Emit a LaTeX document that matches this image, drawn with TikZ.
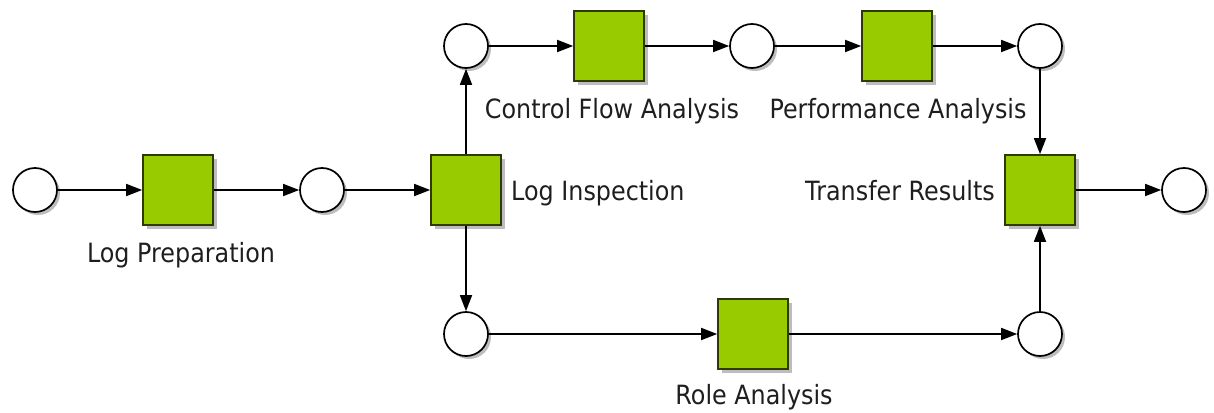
\documentclass[tikz,border=0pt]{standalone}
\usepackage{fontspec}
\setmainfont{DejaVu Sans}[FakeStretch=0.9]
\usetikzlibrary{arrows.meta,shadows}
\definecolor{boxgreen}{HTML}{99CC00}
\definecolor{boxedge}{HTML}{2E3A00}
\definecolor{shade}{HTML}{BDBDBD}
\definecolor{txt}{HTML}{1E1E1E}
\begin{document}
\begin{tikzpicture}[x=1pt,y=-1pt,
  trans/.style={draw=boxedge,line width=1.7pt,fill=boxgreen,minimum size=70pt,inner sep=0pt,
    drop shadow={shadow xshift=4pt,shadow yshift=-4pt,fill=shade,opacity=1}},
  place/.style={circle,draw=black,line width=1.7pt,fill=white,minimum size=44pt,inner sep=0pt,
    drop shadow={shadow xshift=3pt,shadow yshift=-3pt,fill=shade,opacity=1}},
  arc/.style={line width=1.7pt,-{Triangle[length=16pt,width=12pt]}},
  lbl/.style={text=txt,font=\fontsize{26.5}{30}\selectfont,inner sep=0pt}]
\useasboundingbox (0,0) rectangle (1214,412);
\node[place] (p1) at (35,190) {};
\node[trans] (t1) at (178,190) {};
\node[place] (p2) at (322,190) {};
\node[trans] (t2) at (466,190) {};
\node[place] (p3) at (466,46) {};
\node[trans] (t3) at (609,46) {};
\node[place] (p4) at (752,46) {};
\node[trans] (t4) at (897,46) {};
\node[place] (p5) at (1040,46) {};
\node[trans] (t5) at (1040,190) {};
\node[place] (p6) at (1184,190) {};
\node[place] (p7) at (466,334) {};
\node[trans] (t6) at (753,334) {};
\node[place] (p8) at (1040,334) {};

\node[lbl,anchor=base] (l1) at (181,262) {Log Preparation};
\node[lbl,anchor=base west] (l2) at (511,200) {Log Inspection};
\node[lbl,anchor=base] (l3) at (612,118) {Control Flow Analysis};
\node[lbl,anchor=base] (l4) at (898,118) {Performance Analysis};
\node[lbl,anchor=base east] (l5) at (995,200) {Transfer Results};
\node[lbl,anchor=base] (l6) at (754,404) {Role Analysis};

\draw[arc] (p1) -- (t1);
\draw[arc] (t1) -- (p2);
\draw[arc] (p2) -- (t2);
\draw[arc] (t2) -- (p3);
\draw[arc] (p3) -- (t3);
\draw[arc] (t3) -- (p4);
\draw[arc] (p4) -- (t4);
\draw[arc] (t4) -- (p5);
\draw[arc] (p5) -- (t5);
\draw[arc] (t5) -- (p6);
\draw[arc] (t2) -- (p7);
\draw[arc] (p7) -- (t6);
\draw[arc] (t6) -- (p8);
\draw[arc] (p8) -- (t5);
\end{tikzpicture}
\end{document}
